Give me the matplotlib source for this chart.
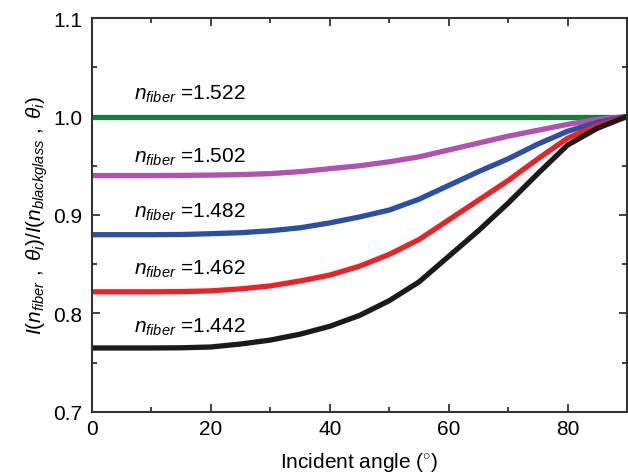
import matplotlib
matplotlib.use("Agg")
import matplotlib.pyplot as plt
from matplotlib.ticker import MultipleLocator

plt.rcParams['font.family'] = ['Liberation Sans', 'DejaVu Sans']
plt.rcParams['mathtext.fontset'] = 'custom'
plt.rcParams['mathtext.rm'] = 'Liberation Sans'
plt.rcParams['mathtext.it'] = 'Liberation Sans:italic'
plt.rcParams['mathtext.bf'] = 'Liberation Sans:bold'

# Incident angle (deg) and intensity ratio
angle = [0, 5, 10, 15, 20, 25, 30, 35, 40, 45, 50, 55, 60, 65, 70, 75, 80, 85, 90]
r1522 = [1.0] * len(angle)
r1502 = [0.940, 0.940, 0.940, 0.9402, 0.9405, 0.941, 0.942, 0.944, 0.947, 0.950,
         0.954, 0.959, 0.966, 0.973, 0.980, 0.986, 0.992, 0.997, 1.0]
r1482 = [0.880, 0.880, 0.880, 0.8802, 0.881, 0.882, 0.884, 0.887, 0.892, 0.898,
         0.905, 0.916, 0.930, 0.944, 0.957, 0.972, 0.985, 0.994, 1.0]
r1462 = [0.822, 0.822, 0.822, 0.8222, 0.823, 0.825, 0.828, 0.833, 0.839, 0.848,
         0.860, 0.875, 0.895, 0.915, 0.935, 0.957, 0.978, 0.991, 1.0]
r1442 = [0.765, 0.765, 0.765, 0.7652, 0.766, 0.769, 0.773, 0.779, 0.787, 0.798,
         0.813, 0.832, 0.858, 0.884, 0.912, 0.942, 0.971, 0.988, 1.0]

labels = ["1.522", "1.502", "1.482", "1.462", "1.442"]
series = [r1522, r1502, r1482, r1462, r1442]
colors = ["#1b7b3b", "#b152b0", "#2c4ea3", "#ec2227", "#1a1a1a"]
label_y = [1.018, 0.954, 0.898, 0.840, 0.782]

fig = plt.figure(figsize=(6.28, 4.77), dpi=100)
ax = fig.add_axes([92/628, 1-413/477, 535/628, 394/477])

for vals, c in zip(series, colors):
    ax.plot(angle, vals, color=c, lw=3.8, solid_capstyle='butt', solid_joinstyle='round')

for lab, y in zip(labels, label_y):
    ax.text(7.0, y, r"$n_{fiber}$ =" + lab, fontsize=15, va='baseline', ha='left')

ax.set_xlim(0, 90)
ax.set_ylim(0.7, 1.1)
ax.xaxis.set_major_locator(MultipleLocator(20))
ax.xaxis.set_minor_locator(MultipleLocator(10))
ax.yaxis.set_major_locator(MultipleLocator(0.1))
ax.yaxis.set_minor_locator(MultipleLocator(0.05))
ax.set_xticks([0, 20, 40, 60, 80])

ax.tick_params(which='both', direction='in', top=True, right=True, color='#333333', width=1.3)
ax.tick_params(which='major', length=6, labelsize=15)
ax.tick_params(axis='x', which='major', pad=5)
ax.tick_params(axis='y', which='major', pad=7)
ax.tick_params(which='minor', length=3.5)
for s in ax.spines.values():
    s.set_linewidth(1.5)
    s.set_color('#333333')

ax.set_xlabel(r"Incident angle ($^{\circ}$)", fontsize=15, labelpad=9)
ax.set_ylabel(r"$I(n_{fiber}\ ,\ \theta_i)/I(n_{blackglass}\ ,\ \theta_i)$", fontsize=15, labelpad=2)

fig.savefig("out.png", dpi=100)
